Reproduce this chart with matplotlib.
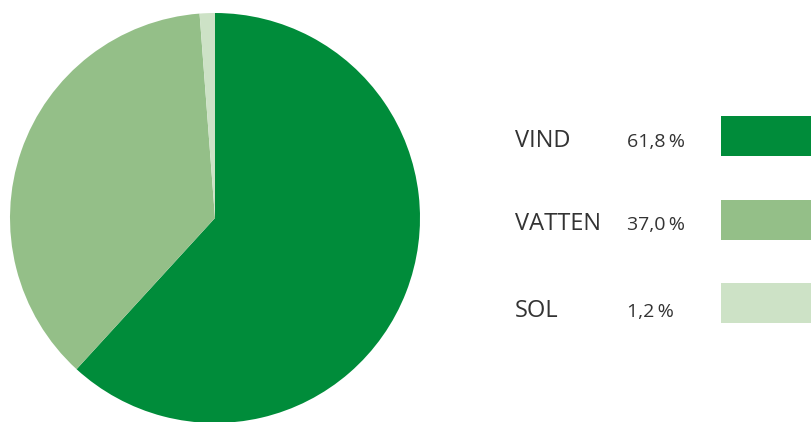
import matplotlib
matplotlib.use("Agg")
import matplotlib.pyplot as plt
from matplotlib.patches import Rectangle

# data
labels = ["VIND", "VATTEN", "SOL"]
shares = [61.8, 37.0, 1.2]
share_text = ["61,8\u2009%", "37,0\u2009%", "1,2\u2009%"]
colors = ["#008C3A", "#94BF88", "#CDE2C6"]

plt.rcParams['font.family'] = ['Open Sans', 'DejaVu Sans']

W, H = 812, 422
fig = plt.figure(figsize=(W / 100, H / 100), dpi=100)
ax = fig.add_axes([0, 0, 1, 1])

# pie, centre/radius in pixel units
ax.pie(shares, colors=colors, startangle=90, counterclock=False,
       center=(215, H - 218), radius=205, frame=True,
       wedgeprops=dict(linewidth=0))
ax.set_xlim(0, W)
ax.set_ylim(0, H)
ax.set_aspect('equal')
ax.axis('off')

# legend rows (baseline of text, centre of swatch)
baselines = [147, 230, 317]
box_mid = [136, 220, 303]
for lab, txt, col, yb, ym in zip(labels, share_text, colors, baselines, box_mid):
    ax.text(515, H - yb, lab, fontsize=17, color="#333333",
            va='baseline', ha='left')
    ax.text(627, H - yb, txt, fontsize=14, color="#333333",
            va='baseline', ha='left')
    ax.add_patch(Rectangle((721, H - ym - 20), 120, 40, color=col, lw=0))

fig.savefig("out.png", dpi=100)
